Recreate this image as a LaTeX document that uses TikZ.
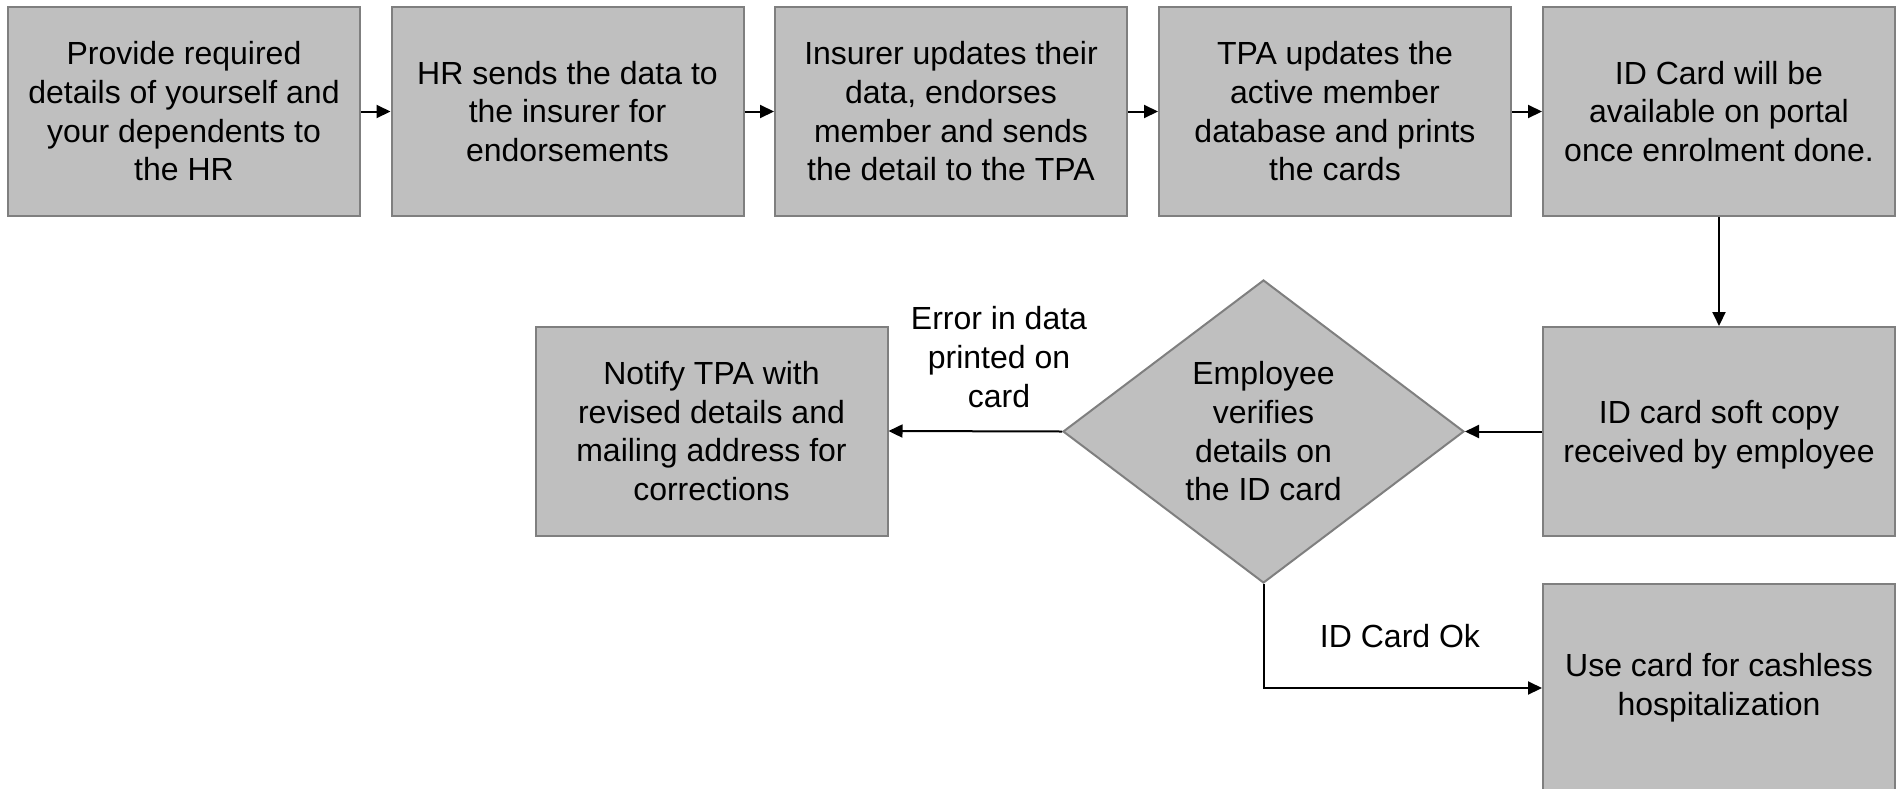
\documentclass[tikz,border=0pt]{standalone}
\usepackage{fontspec}
\setmainfont{Liberation Sans}
\usetikzlibrary{shapes.geometric,arrows.meta}
\definecolor{boxfill}{HTML}{BFBFBF}
\definecolor{boxline}{HTML}{7F7F7F}
\begin{document}
\begin{tikzpicture}[x=1pt,y=-1pt,
  txt/.style={font=\fontsize{32}{38.7}\selectfont, align=center, text=black},
  procbox/.style={txt, draw=boxline, line width=2pt, fill=boxfill, rectangle,
    minimum width=352pt, minimum height=209pt, inner sep=0pt, anchor=center},
  decbox/.style={txt, draw=boxline, line width=2pt, fill=boxfill, diamond,
    aspect=1.3234, minimum width=401pt, minimum height=303pt, inner sep=0pt},
  lbl/.style={txt, inner sep=0pt},
  conn/.style={draw=black, line width=2pt, -{Triangle[length=14pt,width=13pt]}}
]
\useasboundingbox (0,0) rectangle (1899,788);
\clip (0,0) rectangle (1899,788);

\node[procbox] (b1) at (184,111.5) {Provide required\\details of yourself and\\your dependents to\\the HR};
\node[procbox] (b2) at (567.5,111.5) {HR sends the data to\\the insurer for\\endorsements};
\node[procbox] (b3) at (951,111.5) {Insurer updates their\\data, endorses\\member and sends\\the detail to the TPA};
\node[procbox] (b4) at (1335,111.5) {TPA updates the\\active member\\database and prints\\the cards};
\node[procbox] (b5) at (1719,111.5) {ID Card will be\\available on portal\\once enrolment done.};

\node[procbox, text depth=0pt] (b6) at (1719,431.5) {ID card soft copy\\received by employee};
\node[decbox] (d) at (1263.5,431.5) {Employee\\verifies\\details on\\the ID card};
\node[procbox] (b7) at (711.5,431) {Notify TPA with\\revised details and\\mailing address for\\corrections};
\node[procbox] (b8) at (1719,688) {Use card for cashless\\hospitalization};

\node[lbl] (l1) at (999,357) {Error in data\\printed on\\card};
\node[lbl] (l2) at (1400,636) {ID Card Ok};

\draw[conn] (b1.east) -- (b2.west);
\draw[conn] (b2.east) -- (b3.west);
\draw[conn] (b3.east) -- (b4.west);
\draw[conn] (b4.east) -- (b5.west);
\draw[conn] (b5.south) -- (b6.north);
\draw[conn] (b6.west) -- (d.east);
\draw[conn] (d.west) -- (b7.east);
\draw[conn] (d.south) |- (b8.west);
\end{tikzpicture}
\end{document}
